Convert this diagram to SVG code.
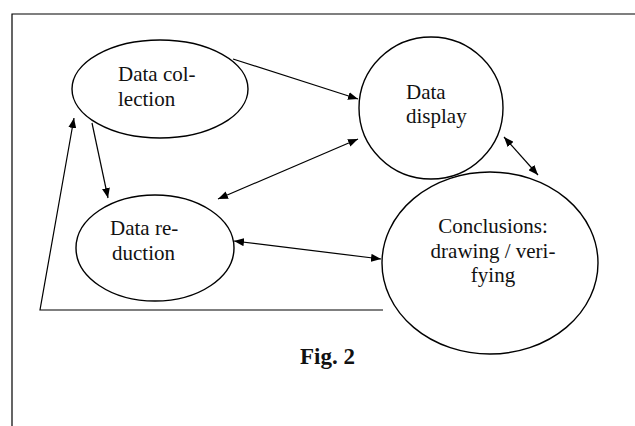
<svg xmlns="http://www.w3.org/2000/svg" width="635" height="426" viewBox="0 0 635 426">
<defs>
<marker id="ah" viewBox="0 0 10 8" refX="10" refY="4" markerWidth="10" markerHeight="8" markerUnits="userSpaceOnUse" orient="auto-start-reverse">
<path d="M0,0 L10,4 L0,8 Z" fill="#000"/>
</marker>
</defs>
<style>
.shape{fill:none;stroke:#000;stroke-width:1.4}
.edge{fill:none;stroke:#000;stroke-width:1.2}
.lbl{font-family:"Liberation Serif","Times New Roman",serif;font-size:21px;fill:#111}
.cap{font-family:"Liberation Serif","Times New Roman",serif;font-size:23px;font-weight:bold;fill:#111}
</style>
<rect width="635" height="426" fill="#fff"/>
<g id="frame">
<path class="edge" d="M12,426 L12,14 L635,14"/>
</g>
<g id="collection">
<ellipse class="shape" cx="160" cy="89" rx="88" ry="49"/>
<text class="lbl" x="118" y="81">Data col-</text>
<text class="lbl" x="118" y="106">lection</text>
</g>
<g id="display">
<ellipse class="shape" cx="431" cy="108" rx="72" ry="71"/>
<text class="lbl" x="406" y="99">Data</text>
<text class="lbl" x="406" y="123">display</text>
</g>
<g id="reduction">
<ellipse class="shape" cx="155" cy="248" rx="79" ry="53"/>
<text class="lbl" x="110" y="235">Data re-</text>
<text class="lbl" x="112" y="260">duction</text>
</g>
<g id="conclusions">
<ellipse class="shape" cx="490" cy="263" rx="108" ry="91"/>
<text class="lbl" x="493" y="233" text-anchor="middle">Conclusions:</text>
<text class="lbl" x="493" y="258" text-anchor="middle">drawing / veri-</text>
<text class="lbl" x="493" y="282" text-anchor="middle">fying</text>
</g>
<g id="connectors">
<line class="edge" x1="233" y1="59" x2="358" y2="99" marker-end="url(#ah)"/>
<line class="edge" x1="92" y1="123" x2="108" y2="198" marker-end="url(#ah)"/>
<line class="edge" x1="218" y1="199" x2="358" y2="139" marker-start="url(#ah)" marker-end="url(#ah)"/>
<line class="edge" x1="504" y1="137" x2="538" y2="175" marker-start="url(#ah)" marker-end="url(#ah)"/>
<line class="edge" x1="234" y1="241" x2="381" y2="259" marker-start="url(#ah)" marker-end="url(#ah)"/>
<polyline class="edge" points="383,310 40,310 74,118" marker-end="url(#ah)"/>
</g>
<text class="cap" x="300" y="364">Fig. 2</text>
</svg>
